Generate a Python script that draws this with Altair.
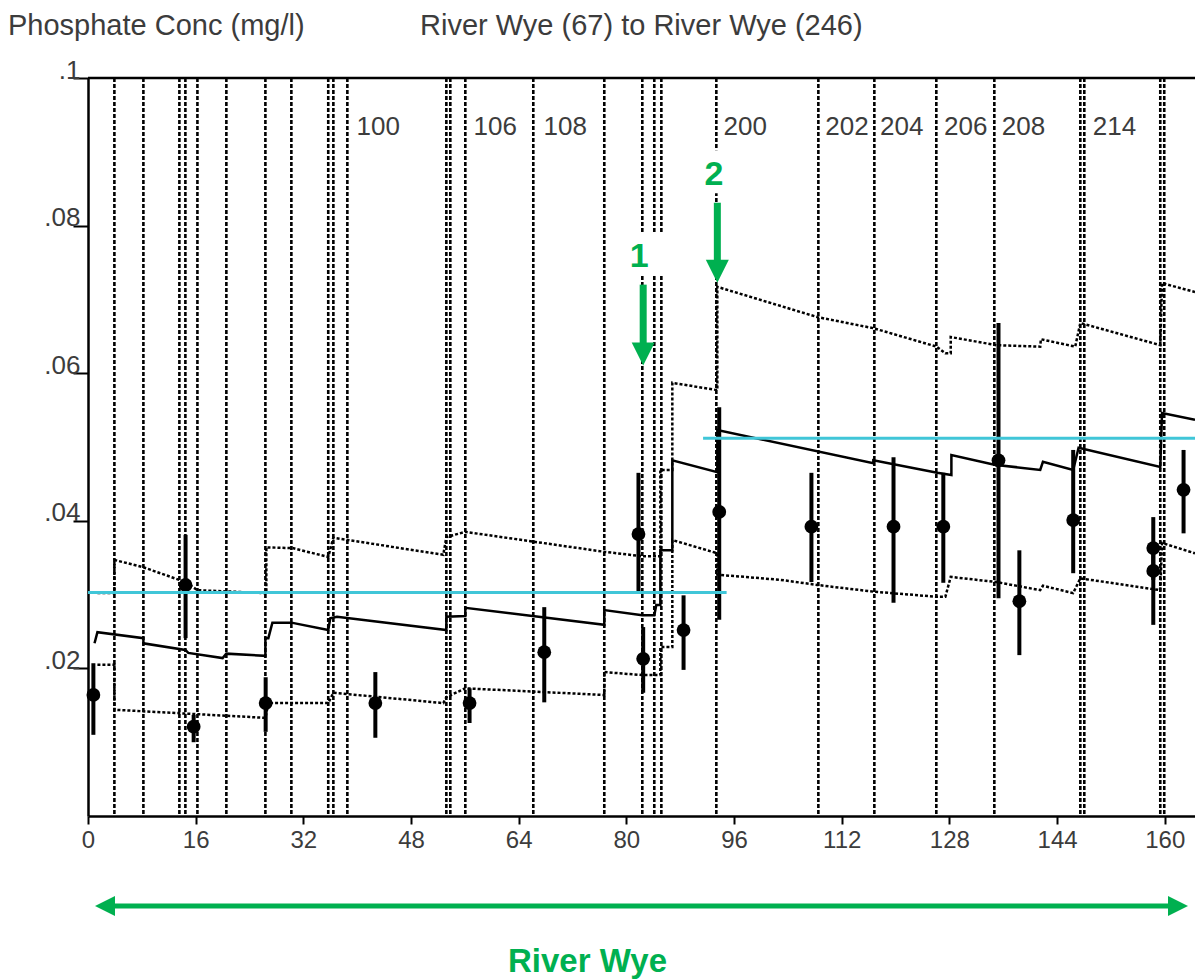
import altair as alt
import pandas as pd

# ---------------------------------------------------------------------------
# Reach boundaries along the river (km downstream)
boundary_km = [3.92, 8.23, 13.58, 14.47, 16.26, 20.56, 26.36, 30.22, 35.7, 36.46,
               38.54, 53.25, 53.84, 56.07, 66.17, 76.72, 82.37, 84.15, 85.2, 93.37,
               108.53, 116.85, 126.06, 134.68, 147.46, 148.05, 159.34, 159.93]

# Reach identifiers written at the top of the plot
reach_names = ["100", "106", "108", "200", "202", "204", "206", "208", "214"]
reach_label_km = [39.9, 57.3, 67.7, 94.45, 109.56, 117.7, 127.2, 135.8, 149.3]

# Modelled mean phosphate concentration (mg/l)
mean_km = [0.97, 1.4, 8.23, 8.23, 14.47, 14.9, 20.0, 20.56, 26.36, 26.36, 26.8, 27.4,
           30.22, 35.7, 36.0, 37.0, 53.25, 53.25, 56.07, 56.07, 76.72, 76.72, 82.37,
           84.15, 84.45, 85.05, 85.05, 86.83, 86.83, 93.52, 93.52, 116.7, 116.7,
           126.2, 128.3, 128.3, 134.7, 141.5, 141.9, 146.4, 147.2, 159.34, 159.6, 164.5]
mean_conc = [0.0234, 0.0249, 0.0241, 0.0234, 0.0225, 0.0221, 0.0214, 0.0220, 0.0217,
             0.0241, 0.0241, 0.0262, 0.0262, 0.0252, 0.0268, 0.0270, 0.0252, 0.0270,
             0.0271, 0.0282, 0.0259, 0.0279, 0.0272, 0.0272, 0.0286, 0.0286, 0.0360,
             0.0360, 0.0482, 0.0466, 0.0523, 0.0478, 0.0482, 0.0465, 0.0462, 0.0489,
             0.0476, 0.0469, 0.0480, 0.0469, 0.0499, 0.0473, 0.0546, 0.0537]

# Upper confidence limit
upper_km = [1.4, 3.92, 3.92, 8.23, 14.47, 16.26, 26.5, 26.5, 30.4, 35.7, 36.46, 52.8,
            53.25, 56.07, 76.72, 82.37, 85.05, 85.05, 86.83, 86.83, 93.52, 93.52,
            108.4, 116.7, 126.1, 127.4, 128.2, 128.2, 134.98, 141.5, 141.6, 146.7,
            147.46, 159.34, 159.6, 164.5]
upper_conc = [0.0302, 0.0302, 0.0347, 0.0337, 0.0317, 0.0306, 0.0302, 0.0364, 0.0363,
              0.0351, 0.0377, 0.0354, 0.0378, 0.0385, 0.0358, 0.0352, 0.0352, 0.0469,
              0.0469, 0.0587, 0.0577, 0.0717, 0.0676, 0.0661, 0.0636, 0.0627, 0.0627,
              0.0649, 0.0638, 0.0636, 0.0646, 0.0636, 0.0668, 0.0638, 0.0722, 0.0710]

# Lower confidence limit
lower_km = [1.4, 3.92, 3.92, 26.36, 26.8, 35.7, 36.46, 52.8, 53.25, 56.07, 76.72,
            76.72, 82.37, 85.05, 85.05, 86.83, 86.83, 93.52, 93.52, 102.9, 108.4,
            116.7, 126.2, 127.4, 128.2, 135.0, 141.5, 141.9, 146.4, 147.46, 159.34,
            159.6, 164.5]
lower_conc = [0.0205, 0.0205, 0.0144, 0.0133, 0.0153, 0.0153, 0.0167, 0.0153, 0.0161,
              0.0173, 0.0164, 0.0195, 0.0191, 0.0191, 0.0229, 0.0229, 0.0374, 0.0356,
              0.0327, 0.0320, 0.0313, 0.0304, 0.0297, 0.0297, 0.0324, 0.0317, 0.0306,
              0.0312, 0.0302, 0.0322, 0.0306, 0.0370, 0.0356]

# Observed means with their ranges
obs_km = [0.8, 14.5, 15.7, 26.4, 42.7, 56.7, 67.8, 81.8, 82.5, 88.5, 93.8, 107.5,
          119.7, 127.1, 135.3, 138.4, 146.4, 158.3, 158.3, 162.8]
obs_conc = [0.0164, 0.0313, 0.0121, 0.0153, 0.0153, 0.0153, 0.0222, 0.0382, 0.0213,
            0.0252, 0.0412, 0.0392, 0.0392, 0.0392, 0.0482, 0.0291, 0.0401, 0.0363,
            0.0332, 0.0442]
obs_low = [0.0110, 0.0241, 0.0100, 0.0114, 0.0106, 0.0126, 0.0154, 0.0302, 0.0167,
           0.0198, 0.0266, 0.0317, 0.0289, 0.0316, 0.0295, 0.0218, 0.0329, 0.0320,
           0.0259, 0.0383]
obs_high = [0.0207, 0.0381, 0.0137, 0.0188, 0.0195, 0.0173, 0.0283, 0.0465, 0.0256,
            0.0299, 0.0554, 0.0465, 0.0486, 0.0465, 0.0668, 0.0360, 0.0496, 0.0405,
            0.0370, 0.0496]

# Standards (horizontal cyan lines): start km, end km, concentration
std_start = [0.0, 91.4]
std_end = [94.9, 164.5]
std_conc = [0.0303, 0.0512]

# Discharge markers: label, km, label level, shaft top, head centre
marker_labels = ["1", "2"]
marker_km = [82.5, 93.52]
marker_label_km = [81.9, 93.0]
marker_label_y = [0.0744, 0.0855]
marker_top = [0.0720, 0.0831]
marker_head = [0.0626, 0.0738]
# white gaps behind the marker numbers
gap_x1 = [80.3, 91.0]
gap_x2 = [86.2, 95.4]
gap_y1 = [0.0733, 0.0844]
gap_y2 = [0.0791, 0.0902]

GREEN = "#00B050"
CYAN = "#40C6D8"
TEXT = "#3c3c3c"
FONT = "Liberation Sans"
W, H = 1107, 738

x_scale = alt.Scale(domain=[0, 164.5], nice=False, zero=False)
y_scale = alt.Scale(domain=[0, 0.1], nice=False, zero=False)
x_axis = alt.Axis(values=list(range(0, 161, 16)), title=None, grid=False,
                  labelFontSize=24, labelFont=FONT, labelColor=TEXT, labelFlush=False,
                  labelOverlap=False, tickSize=8, tickWidth=2, tickColor="black",
                  domainColor="black", domainWidth=2.5, labelPadding=4)
y_axis = alt.Axis(values=[0.02, 0.04, 0.06, 0.08, 0.1], title=None, grid=False,
                  labelExpr="replace(format(datum.value, '.2~f'), '0.', '.')",
                  labelFontSize=26, labelFont=FONT, labelColor=TEXT, labelFlush=False,
                  labelOverlap=False, labelBaseline="alphabetic", labelPadding=-7,
                  tickSize=15, tickWidth=2, tickColor="black",
                  domainColor="black", domainWidth=2.5)


def X(field):
    return alt.X(field, type="quantitative", scale=x_scale, axis=x_axis)


def Y(field):
    return alt.Y(field, type="quantitative", scale=y_scale, axis=y_axis)


def series(km, conc):
    return pd.DataFrame({"km": km, "conc": conc, "i": range(len(km))})


# reach boundaries
bounds = alt.Chart(pd.DataFrame({"km": boundary_km})).mark_rule(
    color="black", strokeWidth=2.6, strokeDash=[4, 2]
).encode(x=X("km"))

# top frame line
frame = alt.Chart(pd.DataFrame({"conc": [0.1]})).mark_rule(
    color="black", strokeWidth=2.5
).encode(y=Y("conc"))

gaps = alt.Chart(pd.DataFrame({"x1": gap_x1, "x2": gap_x2, "y1": gap_y1, "y2": gap_y2})).mark_rect(
    color="white"
).encode(x=X("x1"), x2="x2", y=Y("y1"), y2="y2")

upper = alt.Chart(series(upper_km, upper_conc)).mark_line(
    color="black", strokeWidth=2.5, strokeDash=[3, 2]
).encode(x=X("km"), y=Y("conc"), order="i:Q")

lower = alt.Chart(series(lower_km, lower_conc)).mark_line(
    color="black", strokeWidth=2.5, strokeDash=[3, 2]
).encode(x=X("km"), y=Y("conc"), order="i:Q")

mean = alt.Chart(series(mean_km, mean_conc)).mark_line(
    color="black", strokeWidth=2.5
).encode(x=X("km"), y=Y("conc"), order="i:Q")

obs_df = pd.DataFrame({"km": obs_km, "conc": obs_conc, "lo": obs_low, "hi": obs_high})
bars = alt.Chart(obs_df).mark_rule(color="black", strokeWidth=4).encode(
    x=X("km"), y=Y("lo"), y2="hi"
)
dots = alt.Chart(obs_df).mark_circle(color="black", size=190, opacity=1).encode(
    x=X("km"), y=Y("conc")
)

standards = alt.Chart(pd.DataFrame({"a": std_start, "b": std_end, "conc": std_conc})).mark_rule(
    color=CYAN, strokeWidth=3
).encode(x=X("a"), x2="b", y=Y("conc"))

reach_text = alt.Chart(pd.DataFrame({"km": reach_label_km, "name": reach_names,
                                     "conc": [0.0923] * len(reach_names)})).mark_text(
    align="left", baseline="alphabetic", fontSize=26, font=FONT, color=TEXT
).encode(x=X("km"), y=Y("conc"), text="name:N")

mk = pd.DataFrame({"label": marker_labels, "km": marker_km, "lkm": marker_label_km,
                   "ly": marker_label_y, "top": marker_top, "head": marker_head})
shafts = alt.Chart(mk).mark_rule(color=GREEN, strokeWidth=7).encode(
    x=X("km"), y=Y("top"), y2="head"
)
heads = alt.Chart(mk).mark_point(
    shape="M-1,-1L1,-1L0,1Z", filled=True, size=529, color=GREEN, opacity=1
).encode(x=X("km"), y=Y("head"))
marker_text = alt.Chart(mk).mark_text(
    align="center", baseline="alphabetic", fontSize=34, fontWeight="bold",
    font=FONT, color=GREEN
).encode(x=X("lkm"), y=Y("ly"), text="label:N")

one = pd.DataFrame({"k": [0]})
title_left = alt.Chart(one).mark_text(
    align="left", baseline="alphabetic", fontSize=29, font=FONT, color=TEXT,
    text="Phosphate Conc (mg/l)"
).encode(x=alt.value(-80), y=alt.value(-43))
title_mid = alt.Chart(one).mark_text(
    align="left", baseline="alphabetic", fontSize=29, font=FONT, color=TEXT,
    text="River Wye (67) to River Wye (246)"
).encode(x=alt.value(332), y=alt.value(-43))

span = alt.Chart(one).mark_rule(color=GREEN, strokeWidth=5).encode(
    x=alt.value(16), x2=alt.value(1092), y=alt.value(828)
)
span_left = alt.Chart(one).mark_point(
    shape="M1,-1L-1,0L1,1Z", filled=True, size=400, color=GREEN, opacity=1
).encode(x=alt.value(17), y=alt.value(828))
span_right = alt.Chart(one).mark_point(
    shape="M-1,-1L1,0L-1,1Z", filled=True, size=400, color=GREEN, opacity=1
).encode(x=alt.value(1090), y=alt.value(828))
river = alt.Chart(one).mark_text(
    align="center", baseline="alphabetic", fontSize=33, fontWeight="bold",
    font=FONT, color=GREEN, text="River Wye"
).encode(x=alt.value(499.5), y=alt.value(894))

chart = alt.layer(
    bounds, frame, gaps, upper, lower, mean, bars, dots, standards,
    reach_text, shafts, heads, marker_text,
    title_left, title_mid, span, span_left, span_right, river
).properties(
    width=W, height=H,
    autosize=alt.AutoSizeParams(type="none"),
    padding={"left": 88, "top": 78, "right": 0, "bottom": 163},
    background="white",
).configure_view(stroke=None)

chart.save("out.html", embed_options={"renderer": "svg", "actions": False})
